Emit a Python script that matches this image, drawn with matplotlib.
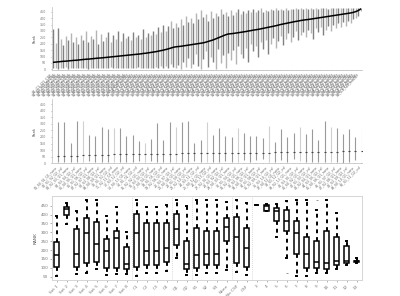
import itertools
import matplotlib
matplotlib.use("Agg")
import matplotlib.pyplot as plt

# panel 1: every configuration, min / median / max rank
p1_med = [55, 57, 59, 61, 63, 64, 66, 68, 70, 71, 73,
          75, 77, 79, 80, 82, 84, 86, 88, 89, 91,
          93, 95, 97, 99, 101, 103, 105, 107, 109, 111,
          113, 115, 117, 119, 121, 124, 126, 129, 132, 135,
          138, 142, 146, 150, 155, 160, 166, 172, 176, 178,
          180, 183, 186, 189, 192, 195, 198, 201, 204, 207,
          212, 218, 224, 230, 238, 246, 254, 262, 270, 276,
          278, 280, 283, 286, 289, 292, 295, 299, 302, 306,
          309, 312, 316, 320, 324, 328, 332, 336, 340, 345,
          350, 354, 358, 362, 366, 370, 374, 377, 381, 384,
          387, 389, 392, 395, 398, 401, 404, 407, 410, 413,
          416, 419, 422, 425, 428, 431, 434, 437, 440, 444, 450, 458, 470]
p1_max = [318, 205, 320, 240, 190, 260, 230, 285, 210, 250, 195,
          270, 230, 300, 215, 260, 240, 310, 200, 275, 225,
          250, 290, 215, 265, 235, 300, 220, 280, 245, 260,
          230, 295, 250, 270, 240, 315, 255, 285, 265, 300,
          275, 330, 290, 350, 300, 340, 380, 320, 360, 330,
          395, 350, 420, 370, 400, 360, 440, 390, 465, 410,
          430, 380, 455, 400, 440, 420, 470, 430, 450, 415,
          460, 425, 445, 470, 435, 455, 440, 465, 450, 470,
          445, 460, 475, 450, 465, 455, 470, 460, 475, 465,
          470, 460, 478, 465, 472, 468, 476, 470, 478, 472,
          475, 470, 478, 473, 476, 472, 478, 475, 477, 474,
          478, 475, 477, 476, 478, 477, 478, 476, 478, 479, 478, 479, 480]
p1_min = [8, 10, 5, 12, 8, 15, 6, 10, 9, 14, 7,
          10, 8, 12, 6, 11, 9, 14, 7, 10, 8,
          12, 9, 15, 7, 10, 13, 8, 11, 9, 14,
          10, 8, 12, 16, 9, 11, 14, 8, 12, 10,
          15, 9, 30, 12, 25, 10, 40, 20, 8, 35,
          5, 60, 20, 90, 10, 45, 120, 30, 5, 80,
          140, 15, 100, 60, 3, 160, 50, 110, 8, 130,
          70, 150, 40, 180, 120, 90, 170, 60, 200, 140,
          185, 100, 210, 160, 230, 120, 200, 245, 170, 220,
          260, 190, 240, 280, 210, 250, 300, 230, 270, 290,
          250, 310, 280, 240, 320, 290, 330, 270, 310, 340,
          300, 350, 320, 360, 330, 370, 340, 380, 360, 390, 400, 420, 455]

# panel 2: the 50 best configurations
p2_max = [317, 317, 151, 322, 322, 215, 207, 274, 261, 268,
          271, 210, 215, 169, 156, 184, 309, 176, 312, 276,
          312, 322, 156, 176, 312, 215, 271, 210, 197, 266,
          228, 207, 207, 189, 284, 161, 261, 199, 230, 274,
          222, 261, 174, 320, 274, 268, 222, 263, 202, 258]
p2_med = [54, 55, 57, 58, 60, 62, 63, 64, 65, 66,
          67, 68, 69, 70, 70, 71, 72, 72, 73, 73,
          74, 74, 75, 75, 76, 76, 77, 77, 78, 79,
          79, 80, 80, 81, 81, 82, 82, 83, 84, 84,
          85, 86, 86, 87, 88, 88, 89, 90, 91, 92]
p2_min = [10, 8, 12, 9, 6, 14, 10, 8, 12, 9,
          11, 7, 10, 13, 8, 18, 9, 12, 7, 10,
          8, 11, 14, 9, 12, 10, 8, 13, 9, 11,
          25, 10, 20, 30, 12, 9, 25, 11, 30, 14,
          10, 5, 12, 9, 11, 8, 3, 12, 25, 10]
p2_light = [4, 9, 14, 19, 24, 29, 34, 39, 44, 49]

# panel 3: rank by factor level
p3_labels = ["Set 1", "Set 2", "Set 3", "Set 4", "Set 5", "Set 6", "Set 7", "Set 8",
             "C1", "C2", "C3", "C4", "Q1", "Q2", "S1", "S2", "S3", "None",
             "No CSF", "CSF", "3", "4", "5", "6", "7", "8", "9", "10", "11", "12", "13"]
p3_whishi = [392, 463, 422, 482, 482, 392, 444, 303, 482, 444, 444, 454, 482, 448,
             482, 482, 482, 473, 482, 463, 455, 459, 459, 476, 482, 482, 426, 482, 407, 251, 153]
p3_q3 = [243, 441, 319, 379, 356, 262, 309, 215, 403, 354, 354, 350, 401, 251,
         322, 307, 309, 379, 388, 322, 455, 454, 435, 426, 364, 275, 253, 309, 275, 225, 138]
p3_med = [172, 429, 176, 294, 232, 195, 270, 121, 298, 195, 195, 210, 317, 121,
          172, 176, 176, 328, 275, 210, 455, 446, 422, 366, 294, 176, 131, 129, 138, 140, 136]
p3_q1 = [103, 396, 106, 125, 131, 97, 101, 91, 103, 116, 116, 135, 228, 95,
         97, 116, 116, 251, 125, 106, 455, 422, 366, 310, 176, 101, 101, 93, 116, 125, 131]
p3_whislo = [54, 345, 63, 72, 93, 59, 63, 63, 54, 69, 69, 84, 153, 58,
             59, 69, 72, 88, 78, 59, 455, 420, 275, 153, 56, 54, 69, 69, 93, 116, 125]
p3_fliers = {23: [72], 26: [482]}
p3_groups = [8.5, 12.5, 14.5, 18.5, 20.5]

# tick labels of the two upper panels
p1_names = ["_".join(t) for t in itertools.product(
    ["S1", "S2", "S3", "S4"], ["C1", "C2", "C3", "C4"], ["Q1", "Q2"], ["CSF", "noCSF"])]
p1_names = (p1_names * 2)[:len(p1_med)]
p2_names = ["%02d_S%d_%02d_Q%d_%s" % (i + 1, i % 4, i % 13 + 1, i % 2 + 1, ["none", "csf"][i % 2])
            for i in range(len(p2_med))]

fig = plt.figure(figsize=(4, 2.96), dpi=100)
grey = "#c8c8c8"
tickgrey = "#777777"

# ---- panel 1
ax1 = fig.add_axes([0.13, 0.7635, 0.775, 0.213])
x1 = list(range(len(p1_med)))
cols = ["#808080" if i % 2 == 0 else "#b4b4b4" for i in x1]
ax1.vlines(x1, p1_min, p1_max, colors=cols, lw=1.0)
ax1.plot(x1, p1_med, color="black", lw=1.1)
ax1.set_xlim(-0.6, len(p1_med) - 0.4)
ax1.set_ylim(-5, 487)
ax1.set_yticks(range(0, 451, 50))
ax1.set_xticks(x1)
ax1.set_xticklabels(p1_names, rotation=45, ha="right", fontsize=2.6, color="#555555")
ax1.tick_params(axis="y", labelsize=2.3, colors=tickgrey, length=1, width=0.4)
ax1.tick_params(axis="x", length=0.8, width=0.3, pad=0.5)
ax1.set_ylabel("Rank", fontsize=2.6, color="#555555", labelpad=2)
for s in ["top", "right"]:
    ax1.spines[s].set_visible(False)
for s in ["left", "bottom"]:
    ax1.spines[s].set_color(grey)
    ax1.spines[s].set_linewidth(0.6)

# ---- panel 2
ax2 = fig.add_axes([0.13, 0.449, 0.775, 0.2165])
x2 = list(range(len(p2_med)))
cols2 = ["#d0d0d0" if i in p2_light else "#9a9a9a" for i in x2]
ax2.vlines(x2, p2_min, p2_max, colors=cols2, lw=0.8)
ax2.scatter(x2, p2_med, marker="_", s=4, color="#444444", lw=0.8, zorder=3)
ax2.set_xlim(-1.0, len(p2_med) - 0.95)
ax2.set_ylim(0, 491)
ax2.set_yticks(range(0, 451, 50))
ax2.set_xticks(x2)
ax2.set_xticklabels(p2_names, rotation=45, ha="right", fontsize=2.3, color="#666666")
ax2.tick_params(axis="y", labelsize=2.3, colors=tickgrey, length=1, width=0.4)
ax2.tick_params(axis="x", length=0.8, width=0.3, pad=0.5)
ax2.set_ylabel("Rank", fontsize=2.6, color="#555555", labelpad=2)
for s in ["top", "right"]:
    ax2.spines[s].set_visible(False)
for s in ["left", "bottom"]:
    ax2.spines[s].set_color(grey)
    ax2.spines[s].set_linewidth(0.6)

# ---- panel 3
ax3 = fig.add_axes([0.13, 0.054, 0.775, 0.284])
stats = []
for i, lab in enumerate(p3_labels):
    stats.append(dict(label=lab, med=p3_med[i], q1=p3_q1[i], q3=p3_q3[i],
                      whislo=p3_whislo[i], whishi=p3_whishi[i],
                      fliers=p3_fliers.get(i, [])))
ax3.bxp(stats, positions=range(1, len(stats) + 1), widths=0.55, patch_artist=True,
        boxprops=dict(facecolor="white", edgecolor="black", lw=1.1),
        medianprops=dict(color="black", lw=1.1),
        whiskerprops=dict(color="black", lw=1.4, linestyle=(0, (2, 2))),
        capprops=dict(color="black", lw=1.4), capwidths=0.12,
        flierprops=dict(marker="_", markersize=2, markeredgecolor="#888888", markeredgewidth=0.6))
for g in p3_groups:
    ax3.axvline(g, color="#cccccc", lw=0.6, linestyle=(0, (1, 1.5)), zorder=0)
ax3.set_xlim(0.53, 31.53)
ax3.set_ylim(31, 505)
ax3.set_yticks(range(50, 451, 50))
ax3.tick_params(axis="y", labelsize=3.0, colors=tickgrey, length=1.2, width=0.4, pad=1.5)
ax3.tick_params(axis="x", labelsize=3.1, colors=tickgrey, length=1.2, width=0.4, pad=1.5)
plt.setp(ax3.get_xticklabels(), rotation=45, ha="right", rotation_mode="anchor")
ax3.set_ylabel("RANK", fontsize=3.2, color="#555555", labelpad=2)
for s in ax3.spines.values():
    s.set_color("#d5d5d5")
    s.set_linewidth(0.7)

fig.savefig("out.png", dpi=100)
